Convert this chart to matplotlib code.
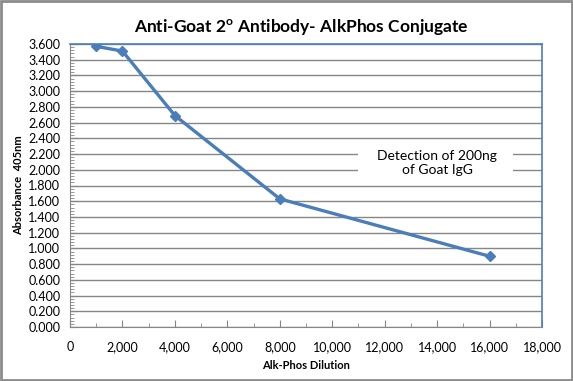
import matplotlib
matplotlib.use("Agg")
import matplotlib.pyplot as plt
from matplotlib.patches import Rectangle
from matplotlib.ticker import MultipleLocator, FuncFormatter

# --- data ----------------------------------------------------------------------
dilution = [1000, 2000, 4000, 8000, 16000]
absorbance = [3.57, 3.51, 2.69, 1.63, 0.90]

LINE = "#4A7EBB"
GRID = "#868686"

plt.rcParams["font.family"] = ["Lato", "DejaVu Sans"]

fig = plt.figure(figsize=(5.73, 3.81), dpi=100)
ax = fig.add_axes([70 / 573, 1 - 327 / 381, 472 / 573, 283 / 381])

ax.plot(dilution, absorbance, color=LINE, linewidth=2.4, marker="D",
        markersize=5.5, markerfacecolor=LINE, markeredgecolor=LINE, zorder=3)

ax.set_xlim(0, 18000)
ax.set_ylim(0, 3.6)
ax.xaxis.set_major_locator(MultipleLocator(2000))
ax.xaxis.set_minor_locator(MultipleLocator(1000))
ax.yaxis.set_major_locator(MultipleLocator(0.2))
ax.yaxis.set_minor_locator(MultipleLocator(0.04))
ax.xaxis.set_major_formatter(FuncFormatter(lambda v, p: f"{v:,.0f}"))
ax.yaxis.set_major_formatter(FuncFormatter(lambda v, p: f"{v:.3f}"))

ax.grid(axis="y", which="major", color=GRID, linewidth=1)
ax.set_axisbelow(True)

for s in ["left", "bottom"]:
    ax.spines[s].set_color(GRID)
for s in ["top", "right"]:
    ax.spines[s].set_color(LINE)
    ax.spines[s].set_linewidth(1.2)

ax.tick_params(axis="both", which="major", direction="in", length=5,
               color=GRID, labelsize=9)
ax.tick_params(axis="x", which="major", pad=10)
ax.tick_params(axis="y", which="major", pad=7)
ax.tick_params(axis="both", which="minor", direction="in", length=3, color=GRID)

ax.set_xlabel("Alk-Phos Dilution", fontsize=8, fontweight="bold", labelpad=5)
ax.set_ylabel("Absorbance  405nm", fontsize=8, fontweight="bold", labelpad=3)

fig.text(0.525, 0.928, "Anti-Goat 2$^{\\mathregular{o}}$ Antibody- AlkPhos Conjugate",
         ha="center", va="center", fontsize=12.5, fontweight="bold")

# white label box that hides the gridlines behind the note
ax.add_patch(Rectangle((11000, 1.86), 5900, 0.48, facecolor="white",
                       edgecolor="none", zorder=1.5))
ax.text(14000, 2.09, "Detection of 200ng\nof Goat IgG", ha="center", va="center",
        fontsize=10, linespacing=1.2, zorder=2)

fig.add_artist(Rectangle((0.001, 0.002), 0.997, 0.995, transform=fig.transFigure,
                         fill=False, edgecolor="#8C8C8C", linewidth=2))

fig.savefig("out.png", dpi=100)
